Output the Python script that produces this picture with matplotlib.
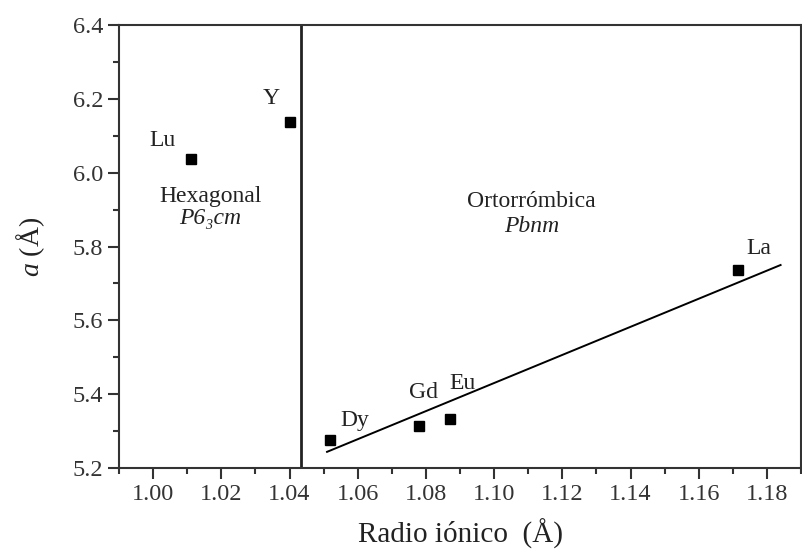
import matplotlib
matplotlib.use('Agg')
import matplotlib.pyplot as plt
from matplotlib.ticker import MultipleLocator, FormatStrFormatter

# ionic radius (A) and lattice parameter a (A)
elements = ['Lu', 'Y', 'Dy', 'Gd', 'Eu', 'La']
radius = [1.011, 1.040, 1.052, 1.078, 1.087, 1.1715]
a_param = [6.036, 6.137, 5.277, 5.314, 5.332, 5.736]

# label positions
label_x = [1.0027, 1.0345, 1.059, 1.0792, 1.0906, 1.1777]
label_y = [6.088, 6.200, 5.330, 5.406, 5.430, 5.796]

# linear fit for the orthorhombic phase (endpoints as drawn)
fit_x = [1.051, 1.184]
fit_y = [5.244, 5.750]

# phase boundary
boundary = 1.0433

plt.rcParams['font.family'] = ['Liberation Serif', 'DejaVu Serif']
plt.rcParams['mathtext.fontset'] = 'custom'
plt.rcParams['mathtext.rm'] = 'Liberation Serif'
plt.rcParams['mathtext.it'] = 'Liberation Serif:italic'
txt = '#222222'

fig = plt.figure(figsize=(8.02, 5.52), dpi=100)
ax = fig.add_axes([0.1484, 0.152, 0.8504, 0.8027])

ax.plot(radius, a_param, 'ks', ms=7)
ax.plot(fit_x, fit_y, color='black', lw=1.4)
ax.axvline(boundary, color='#222222', lw=2)

fs = 17
for name, lx, ly in zip(elements, label_x, label_y):
    ax.text(lx, ly, name, fontsize=fs, ha='center', va='center', color=txt)

ax.text(1.0168, 5.935, 'Hexagonal', fontsize=fs, ha='center', va='center', color=txt)
ax.text(1.0168, 5.877, 'P6₃cm', fontsize=fs, style='italic', ha='center', va='center', color=txt)
ax.text(1.1109, 5.921, 'Ortorrómbica', fontsize=fs, ha='center', va='center', color=txt)
ax.text(1.1109, 5.853, 'Pbnm', fontsize=fs, style='italic', ha='center', va='center', color=txt)

ax.set_xlim(0.99, 1.19)
ax.set_ylim(5.2, 6.4)
ax.xaxis.set_major_locator(MultipleLocator(0.02))
ax.xaxis.set_minor_locator(MultipleLocator(0.01))
ax.yaxis.set_major_locator(MultipleLocator(0.2))
ax.yaxis.set_minor_locator(MultipleLocator(0.1))
ax.xaxis.set_major_formatter(FormatStrFormatter('%.2f'))
ax.yaxis.set_major_formatter(FormatStrFormatter('%.1f'))

ax.tick_params(which='major', direction='out', length=8, width=1.5, labelsize=17.5,
               colors='#333333', labelcolor='#333333')
ax.tick_params(which='minor', direction='out', length=4, width=1.5, colors='#333333')
ax.tick_params(top=False, right=False, which='both')

for s in ax.spines.values():
    s.set_linewidth(1.5)
    s.set_color('#333333')

ax.set_xlabel('Radio iónico  (Å)', fontsize=21, color=txt, labelpad=10)
ax.set_ylabel(r'$\mathit{a}$ (Å)', fontsize=20, color=txt, labelpad=18)

fig.savefig('out.png', dpi=100)
